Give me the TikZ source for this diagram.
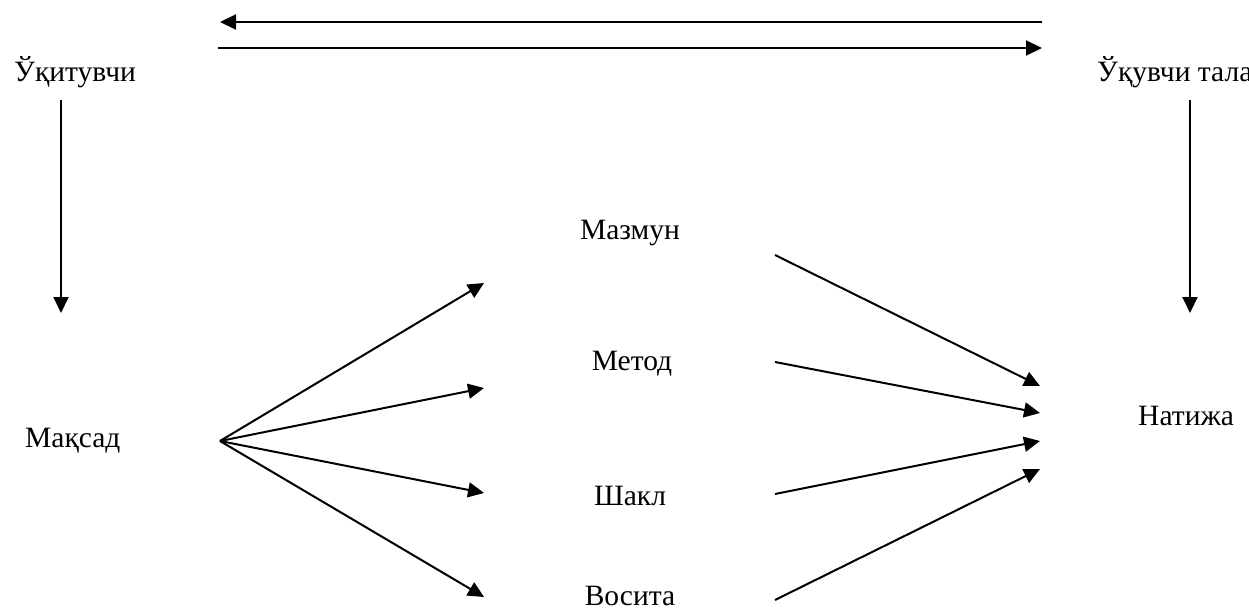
\documentclass[tikz,border=0pt]{standalone}
\usepackage{fontspec}
\setmainfont{Liberation Serif}
\usetikzlibrary{arrows.meta}
\begin{document}
\begin{tikzpicture}[x=1pt,y=-1pt,
  lbl/.style={inner sep=0pt,font=\fontsize{29.5}{32}\selectfont},
  link/.style={line width=2pt,-{Triangle[length=16pt,width=15pt]}}]
\useasboundingbox (0,0) rectangle (1249,612);
\clip (0,0) rectangle (1249,612);
% labels
\node[lbl,anchor=base west] (teacher) at (14,82) {Ўқитувчи};
\node[lbl,anchor=base west] (student) at (1097,82) {Ўқувчи тала};
\node[lbl,anchor=base] (content) at (630,240) {Мазмун};
\node[lbl,anchor=base] (method) at (632,370) {Метод};
\node[lbl,anchor=base] (form) at (630,505) {Шакл};
\node[lbl,anchor=base] (means) at (630,605) {Восита};
\node[lbl,anchor=base west] (goal) at (25,447) {Мақсад};
\node[lbl,anchor=base west] (result) at (1138,425) {Натижа};
% arrow end points
\coordinate (topR1) at (1042,22);
\coordinate (topL1) at (220,22);
\coordinate (topL2) at (218,48);
\coordinate (topR2) at (1042,48);
\coordinate (tDown) at (61,100);
\coordinate (tEnd) at (61,313);
\coordinate (sDown) at (1190,100);
\coordinate (sEnd) at (1190,313);
\coordinate (fan) at (220,441);
\coordinate (in1) at (484,283);
\coordinate (in2) at (484,388);
\coordinate (in3) at (484,493);
\coordinate (in4) at (484,597);
\coordinate (out1) at (775,255);
\coordinate (out2) at (775,362);
\coordinate (out3) at (775,494);
\coordinate (out4) at (775,600);
\coordinate (res1) at (1040,386);
\coordinate (res2) at (1040,413);
\coordinate (res3) at (1040,441);
\coordinate (res4) at (1040,469);
% teacher <-> student
\draw[link] (topR1) -- (topL1);
\draw[link] (topL2) -- (topR2);
\draw[link] (tDown) -- (tEnd);
\draw[link] (sDown) -- (sEnd);
% goal to the four components
\draw[link] (fan) -- (in1);
\draw[link] (fan) -- (in2);
\draw[link] (fan) -- (in3);
\draw[link] (fan) -- (in4);
% components to result
\draw[link] (out1) -- (res1);
\draw[link] (out2) -- (res2);
\draw[link] (out3) -- (res3);
\draw[link] (out4) -- (res4);
\end{tikzpicture}
\end{document}
